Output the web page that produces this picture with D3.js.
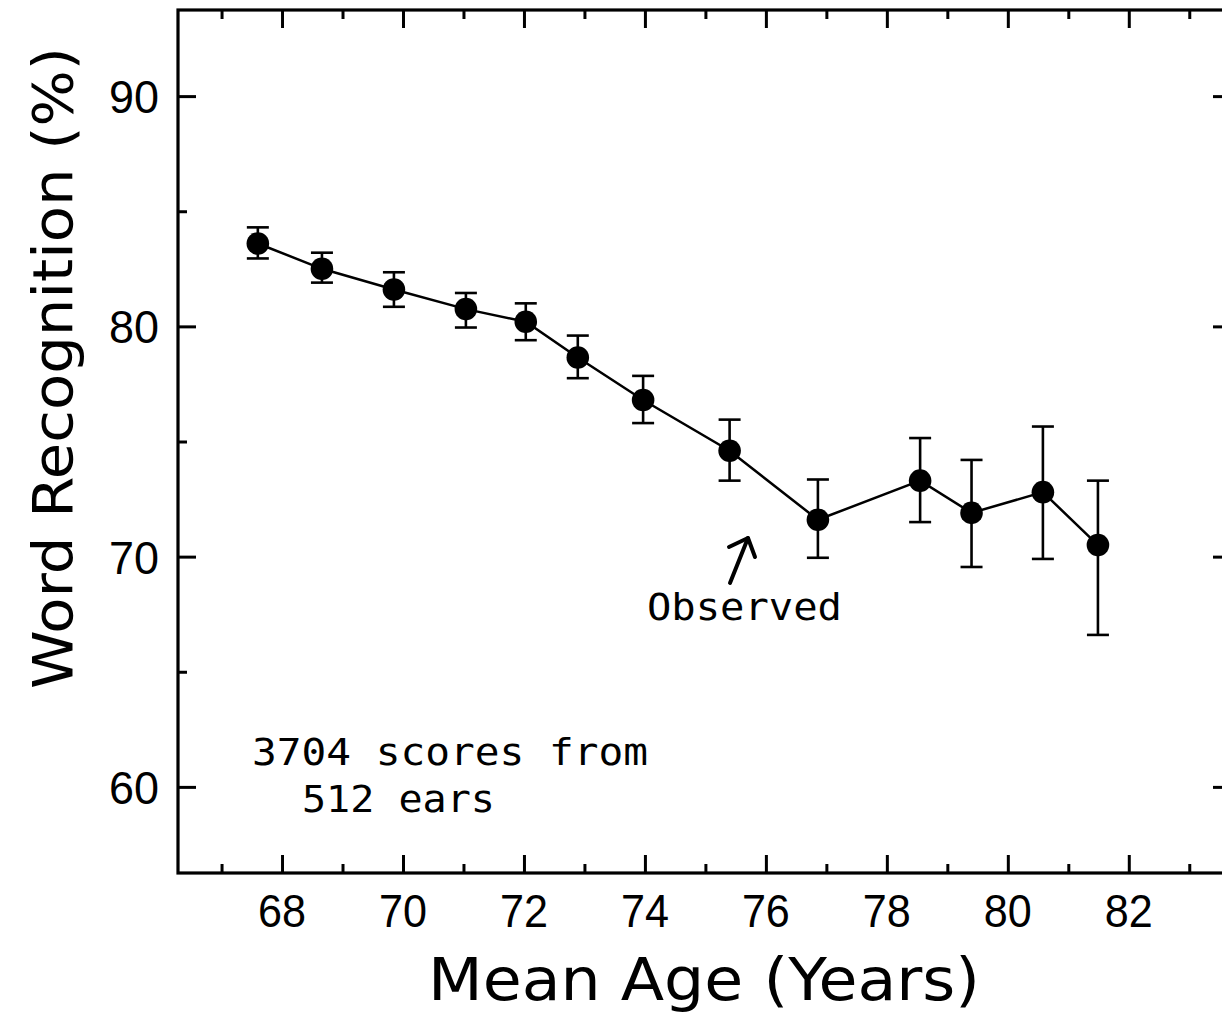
<!DOCTYPE html>
<html>
<head>
<meta charset="utf-8">
<script src="https://cdn.jsdelivr.net/npm/d3@7"></script>
<style>
  body { margin: 0; background: #fff; }
  svg { display: block; }
</style>
</head>
<body>
<div id="vis"></div>
<script>
const FRAME_WIDTH = 1222;
const FRAME_HEIGHT = 1013;
const PLOT = {left: 178, right: 1231, top: 10, bottom: 873};

// data
const ages   = [67.6, 68.66, 69.85, 71.04, 72.03, 72.89, 73.97, 75.4, 76.86, 78.55, 79.4, 80.58, 81.49];
const scores = [83.6, 82.5, 81.6, 80.75, 80.2, 78.65, 76.8, 74.6, 71.6, 73.3, 71.9, 72.8, 70.5];
const lower  = [82.95, 81.9, 80.85, 79.95, 79.4, 77.75, 75.8, 73.3, 69.95, 71.5, 69.55, 69.9, 66.6];
const upper  = [84.3, 83.2, 82.35, 81.45, 81.0, 79.6, 77.85, 75.95, 73.35, 75.15, 74.2, 75.65, 73.3];

const xMajor = [68, 70, 72, 74, 76, 78, 80, 82];
const xMinor = [67, 69, 71, 73, 75, 77, 79, 81, 83];
const yMajor = [60, 70, 80, 90];
const yMinor = [65, 75, 85];

const data = ages.map((a, i) => ({age: a, score: scores[i], lo: lower[i], hi: upper[i]}));

const svg = d3.select("#vis")
  .append("svg")
    .attr("width", FRAME_WIDTH)
    .attr("height", FRAME_HEIGHT);

const X = d3.scaleLinear().domain([66.28, 83.69]).range([PLOT.left, PLOT.right]);
const Y = d3.scaleLinear().domain([56.26, 93.74]).range([PLOT.bottom, PLOT.top]);

const INK = "#000";
const MAJ = 18, MIN = 9;

// frame
svg.append("rect")
  .attr("x", PLOT.left).attr("y", PLOT.top)
  .attr("width", PLOT.right - PLOT.left).attr("height", PLOT.bottom - PLOT.top)
  .attr("fill", "none").attr("stroke", INK).attr("stroke-width", 3.2);

// axes with inward ticks
function tickAxis(axis, scale, values, len, transform) {
  const g = svg.append("g")
    .attr("transform", transform)
    .call(axis(scale).tickValues(values).tickSize(-len).tickFormat(""));
  g.select(".domain").remove();
  g.selectAll(".tick line").attr("stroke", INK).attr("stroke-width", 3);
  return g;
}
tickAxis(d3.axisBottom, X, xMajor, MAJ, `translate(0,${PLOT.bottom})`);
tickAxis(d3.axisBottom, X, xMinor, MIN, `translate(0,${PLOT.bottom})`);
tickAxis(d3.axisTop, X, xMajor, MAJ, `translate(0,${PLOT.top})`);
tickAxis(d3.axisTop, X, xMinor, MIN, `translate(0,${PLOT.top})`);
tickAxis(d3.axisLeft, Y, yMajor, MAJ, `translate(${PLOT.left},0)`);
tickAxis(d3.axisLeft, Y, yMinor, MIN, `translate(${PLOT.left},0)`);
tickAxis(d3.axisRight, Y, yMajor, MAJ, `translate(${PLOT.right},0)`);
tickAxis(d3.axisRight, Y, yMinor, MIN, `translate(${PLOT.right},0)`);

// tick labels
const labelFont = "'Liberation Sans', Arial, sans-serif";
svg.append("g").selectAll("text")
  .data(xMajor).enter().append("text")
    .attr("x", d => X(d)).attr("y", 927)
    .attr("text-anchor", "middle")
    .attr("font-family", labelFont).attr("font-size", 47)
    .attr("textLength", 48).attr("lengthAdjust", "spacingAndGlyphs")
    .text(d => d);
svg.append("g").selectAll("text")
  .data(yMajor).enter().append("text")
    .attr("x", 159).attr("y", d => Y(d) + 17)
    .attr("text-anchor", "end")
    .attr("font-family", labelFont).attr("font-size", 47)
    .attr("textLength", 50).attr("lengthAdjust", "spacingAndGlyphs")
    .text(d => d);

// axis titles
const titleFont = "'DejaVu Sans', sans-serif";
svg.append("text")
  .attr("x", 704).attr("y", 1000)
  .attr("text-anchor", "middle")
  .attr("font-family", titleFont).attr("font-size", 58)
  .attr("textLength", 552).attr("lengthAdjust", "spacingAndGlyphs")
  .text("Mean Age (Years)");
svg.append("text")
  .attr("transform", "translate(72,368) rotate(-90)")
  .attr("text-anchor", "middle")
  .attr("font-family", titleFont).attr("font-size", 56)
  .attr("textLength", 642).attr("lengthAdjust", "spacingAndGlyphs")
  .text("Word Recognition (%)");

// connecting line
svg.append("path")
  .datum(data)
  .attr("fill", "none").attr("stroke", INK).attr("stroke-width", 2.5)
  .attr("d", d3.line().x(d => X(d.age)).y(d => Y(d.score)));

// error bars
const eb = svg.append("g").attr("stroke", INK).attr("stroke-width", 2.6);
eb.selectAll(".v").data(data).enter().append("line")
  .attr("x1", d => X(d.age)).attr("x2", d => X(d.age))
  .attr("y1", d => Y(d.lo)).attr("y2", d => Y(d.hi));
eb.selectAll(".lo").data(data).enter().append("line")
  .attr("x1", d => X(d.age) - 11).attr("x2", d => X(d.age) + 11)
  .attr("y1", d => Y(d.lo)).attr("y2", d => Y(d.lo));
eb.selectAll(".hi").data(data).enter().append("line")
  .attr("x1", d => X(d.age) - 11).attr("x2", d => X(d.age) + 11)
  .attr("y1", d => Y(d.hi)).attr("y2", d => Y(d.hi));

// points
svg.append("g").selectAll("circle")
  .data(data).enter().append("circle")
    .attr("cx", d => X(d.age)).attr("cy", d => Y(d.score))
    .attr("r", 11.3).attr("fill", INK);

// annotations
const monoFont = "'DejaVu Sans Mono', monospace";
svg.append("text")
  .attr("x", 252).attr("y", 765)
  .attr("font-family", monoFont).attr("font-size", 38)
  .attr("textLength", 396).attr("lengthAdjust", "spacingAndGlyphs")
  .text("3704 scores from");
svg.append("text")
  .attr("x", 302).attr("y", 812)
  .attr("font-family", monoFont).attr("font-size", 38)
  .attr("textLength", 193).attr("lengthAdjust", "spacingAndGlyphs")
  .text("512 ears");
svg.append("text")
  .attr("x", 647).attr("y", 620)
  .attr("font-family", monoFont).attr("font-size", 38)
  .attr("textLength", 195).attr("lengthAdjust", "spacingAndGlyphs")
  .text("Observed");

// arrow pointing at the observed curve
const arrow = svg.append("g").attr("stroke", INK).attr("stroke-width", 4)
  .attr("fill", "none").attr("stroke-linecap", "round").attr("stroke-linejoin", "round");
arrow.append("line").attr("x1", 730).attr("y1", 583).attr("x2", 748).attr("y2", 538);
arrow.append("polyline").attr("points", "729,547 748,538 755,557");
</script>
</body>
</html>
